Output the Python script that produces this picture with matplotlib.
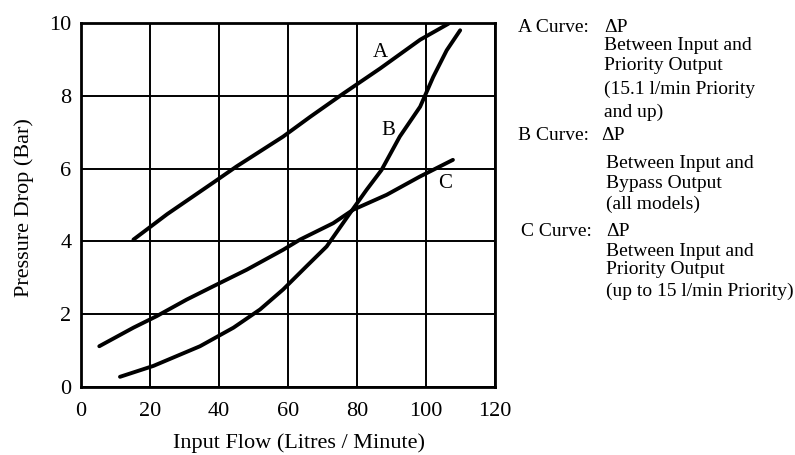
import matplotlib
matplotlib.use("Agg")
import matplotlib.pyplot as plt

plt.rcParams['font.family'] = ['Liberation Serif', 'DejaVu Serif']

# Curve A
a_x = [15.2, 25, 38.4, 45.1, 58.6, 66.4, 76, 86.7, 98.3, 106.5]
a_y = [4.05, 4.75, 5.62, 6.06, 6.88, 7.42, 8.06, 8.75, 9.54, 9.98]
# Curve B
b_x = [11.3, 21, 34.5, 44.2, 51.9, 58.6, 65.4, 71.2, 78, 82.8, 87.1, 92.4, 98.3, 102.1, 106, 109.9]
b_y = [0.28, 0.58, 1.12, 1.63, 2.13, 2.68, 3.32, 3.86, 4.78, 5.42, 5.96, 6.88, 7.70, 8.52, 9.25, 9.8]
# Curve C
c_x = [5.3, 15.2, 22, 30.6, 38.4, 48, 58.6, 63.5, 73.1, 78.9, 88.6, 98.2, 107.8]
c_y = [1.12, 1.63, 1.95, 2.40, 2.77, 3.22, 3.77, 4.05, 4.50, 4.87, 5.28, 5.78, 6.24]

x_ticks = [0, 20, 40, 60, 80, 100, 120]
y_ticks = [0, 2, 4, 6, 8, 10]

W, H = 795, 455
fig = plt.figure(figsize=(W / 100, H / 100), dpi=100)
ax = fig.add_axes([81 / W, 1 - 387 / H, (495 - 81) / W, (387 - 23) / H])

for xs, ys in [(a_x, a_y), (b_x, b_y), (c_x, c_y)]:
    ax.plot(xs, ys, color='black', lw=2.8, solid_capstyle='round', zorder=3)

ax.text(86.7, 9.2, 'A', fontsize=15, ha='center', va='center')
ax.text(89.1, 7.06, 'B', fontsize=15, ha='center', va='center')
ax.text(105.5, 5.6, 'C', fontsize=15, ha='center', va='center')

ax.set_xlim(0, 120)
ax.set_ylim(0, 10)
ax.set_xticks(x_ticks)
ax.set_yticks(y_ticks)
ax.grid(True, color='black', lw=1.4)
ax.tick_params(length=0, labelsize=16)
ax.tick_params(axis='x', pad=11)
ax.tick_params(axis='y', pad=7)
for s in ax.spines.values():
    s.set_linewidth(2.0)
ax.set_xlabel('Input Flow (Litres / Minute)', fontsize=16)
ax.set_ylabel('Pressure Drop (Bar)', fontsize=16)
ax.xaxis.set_label_coords((299 - 81) / 414, (387 - 443) / 364)
ax.xaxis.label.set_va('center')
ax.yaxis.set_label_coords((24 - 81) / 414, (387 - 208) / 364)
ax.yaxis.label.set_va('center')

def t(x, y, s):
    fig.text(x / W, 1 - y / H, s, fontsize=14, ha='left', va='center')

t(518, 27, 'A Curve:')
t(604, 27, 'ΔP')
t(604, 45, 'Between Input and')
t(604, 66, 'Priority Output')
t(604, 89, '(15.1 l/min Priority')
t(604, 112, 'and up)')
t(518, 136, 'B Curve:')
t(601, 136, 'ΔP')
t(606, 163, 'Between Input and')
t(606, 183, 'Bypass Output')
t(606, 204, '(all models)')
t(521, 232, 'C Curve:')
t(606, 232, 'ΔP')
t(606, 251, 'Between Input and')
t(606, 270, 'Priority Output')
t(606, 291, '(up to 15 l/min Priority)')

fig.savefig('out.png', dpi=100, facecolor='white')
